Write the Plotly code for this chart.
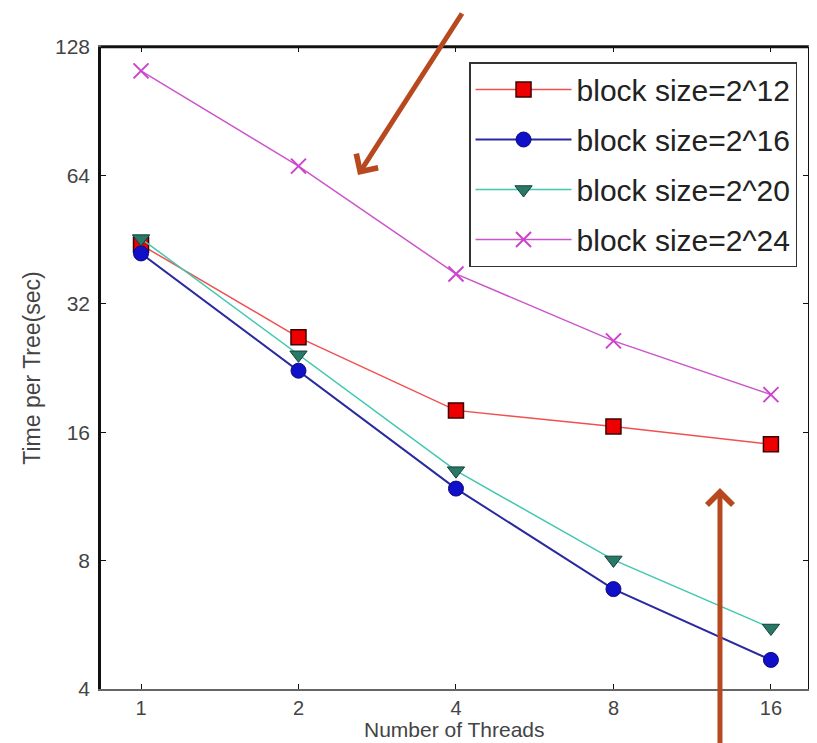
import plotly.graph_objects as go

threads = [1, 2, 4, 8, 16]
bs12 = [44, 26.7, 18.0, 16.5, 15.0]
bs16 = [42, 22.3, 11.8, 6.86, 4.68]
bs20 = [45.5, 24.3, 13.0, 8.03, 5.56]
bs24 = [112.5, 67.3, 37.6, 26.2, 19.6]
y_ticks = [4, 8, 16, 32, 64, 128]
x_ticks = [1, 2, 4, 8, 16]

names = ["block size=2^12", "block size=2^16", "block size=2^20", "block size=2^24"]

fig = go.Figure()
fig.add_trace(go.Scatter(x=threads, y=bs12, name=names[0], mode="lines+markers", legendgroup="a",
                         line=dict(color="#f05050", width=1.5),
                         marker=dict(symbol="square", size=15, color="#ee0000", line=dict(color="#400000", width=1.5))))
fig.add_trace(go.Scatter(x=threads, y=bs16, name=names[1], mode="lines+markers", legendgroup="b",
                         line=dict(color="#2a2aa0", width=2),
                         marker=dict(symbol="circle", size=15, color="#1010c8", line=dict(color="#0a0a80", width=1))))
fig.add_trace(go.Scatter(x=threads, y=bs20, name=names[2], mode="lines+markers", legendgroup="c",
                         line=dict(color="#40c8b0", width=1.5),
                         marker=dict(symbol="triangle-down", size=15, color="#2a7868", line=dict(color="#144038", width=1))))
fig.add_trace(go.Scatter(x=threads, y=bs24, name=names[3], mode="lines+markers", legendgroup="d",
                         line=dict(color="#cc55cc", width=1.5),
                         marker=dict(symbol="x-thin", size=15, color="#cc44cc", line=dict(color="#cc44cc", width=2))))

fig.update_layout(
    width=817, height=743,
    margin=dict(l=93, r=17, t=39, b=62),
    paper_bgcolor="white", plot_bgcolor="white",
    font=dict(family="Liberation Sans, Arial, sans-serif", color="#333333"),
    showlegend=True,
    legend=dict(x=0.9845, y=0.9766, xanchor="right", yanchor="top",
                bgcolor="white", bordercolor="#333333", borderwidth=1.5,
                font=dict(size=30, color="#222222"), tracegroupgap=8,
                traceorder="grouped", itemwidth=96),
    xaxis=dict(type="log", range=[-0.0765, 1.275], tickvals=x_ticks, ticktext=[str(v) for v in x_ticks],
               showgrid=False, zeroline=False, showline=True, linecolor="#666666", linewidth=2,
               mirror="ticks", ticks="inside", ticklen=5, tickcolor="#111111",
               tickfont=dict(size=20, color="#444444")),
    yaxis=dict(type="log", range=[0.60206, 2.10721], tickvals=y_ticks, ticktext=[str(v) for v in y_ticks],
               showgrid=False, zeroline=False, showline=True, linecolor="#111111", linewidth=2.5,
               mirror="ticks", ticks="inside", ticklen=5, tickcolor="#111111",
               tickfont=dict(size=21, color="#444444"), ticklabelstandoff=4,
               title=dict(text="Time per Tree(sec)", font=dict(size=23, color="#444444"), standoff=8)),
)

# x-axis title as an annotation for precise placement
fig.add_annotation(x=0.5, y=-0.063, xref="paper", yref="paper", xanchor="center", yanchor="middle",
                   text="Number of Threads", showarrow=False, font=dict(size=21, color="#444444"))

# top border in black (reference shows a dark top frame line)
fig.add_shape(type="line", xref="paper", yref="paper", x0=0, x1=1, y0=1, y1=1,
              line=dict(color="#111111", width=2.5), layer="above")

arrow_color = "#b8491f"
fig.add_annotation(x=0.3635, y=0.8006, xref="paper", yref="paper", ax=105, ay=-163, axref="pixel", ayref="pixel",
                   text="", showarrow=True, arrowhead=4, arrowsize=1, arrowwidth=5, arrowcolor=arrow_color)
fig.add_annotation(x=0.8755, y=0.313, xref="paper", yref="paper", ax=0, ay=260, axref="pixel", ayref="pixel",
                   text="", showarrow=True, arrowhead=4, arrowsize=1, arrowwidth=5, arrowcolor=arrow_color)

fig.write_html("out.html")
